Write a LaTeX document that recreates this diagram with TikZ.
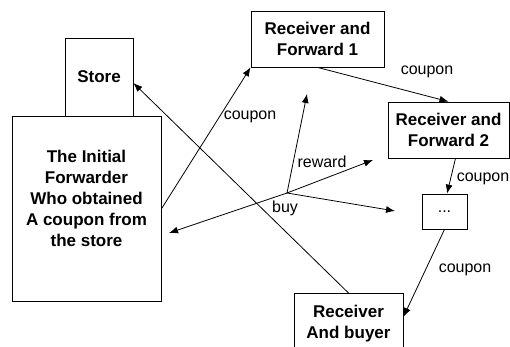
\documentclass[tikz,border=0pt]{standalone}
\usepackage{fontspec}
\setmainfont{Liberation Sans}
\usetikzlibrary{arrows.meta}
\tikzset{every path/.style={black,line width=0.8pt},
  box/.style={draw,fill=white,align=center,inner sep=0pt,font=\fontsize{17}{21}\selectfont\bfseries},
  lbl/.style={inner sep=0pt,font=\fontsize{16}{19}\selectfont},
  arr/.style={-{Latex[length=9pt,width=7pt]}}}

\begin{document}
\begin{tikzpicture}[x=1pt,y=-1pt]
  \useasboundingbox (0,0) rectangle (510,347);
  % boxes
  \node[box,minimum width=68pt,minimum height=78pt] (store) at (99,77) {Store};
  \node[box,anchor=north,minimum width=149pt,text height=130pt,text depth=55pt] (init) at (86.5,116)
    {The Initial\\Forwarder\\Who obtained\\A coupon from\\the store};
  \node[box,minimum width=133pt,minimum height=56pt] (rf1) at (317.5,39) {Receiver and\\Forward 1};
  \node[box,minimum width=121pt,minimum height=56pt] (rf2) at (448.5,130) {Receiver and\\Forward 2};
  \node[box,minimum width=45pt,minimum height=35pt,font=\fontsize{16}{19}\selectfont] (dots) at (444.5,211.5) {...};
  \node[box,anchor=north,minimum width=109pt,text height=45pt,text depth=20pt] (buyer) at (348.5,293)
    {Receiver\\And buyer};
  % the coupon chain
  \draw[arr] (init.east) -- (rf1.south west);
  \draw[arr] (rf1.south) -- (rf2.north);
  \draw[arr] ([xshift=7pt]rf2.south) -- ([xshift=2.5pt]dots.north);
  \draw[arr] (dots.south) -- ([yshift=9pt]buyer.east);
  \draw[arr] (buyer.north) -- ([yshift=-6pt]store.east);
  % reward and buy
  \coordinate (hub) at (287,193);
  \coordinate (up) at (307,94);
  \coordinate (upr) at (373,160);
  \coordinate (dnr) at (395,211);
  \coordinate (lft) at (169,233);
  \draw[arr] (hub) -- (up);
  \draw[arr] (hub) -- (upr);
  \draw[arr] (hub) -- (dnr);
  \draw[arr] (hub) -- (lft);
  % labels
  \node[lbl] (c1) at (250,117) {coupon};
  \node[lbl] (c2) at (427,72) {coupon};
  \node[lbl] (c3) at (483,179) {coupon};
  \node[lbl] (c4) at (465,270) {coupon};
  \node[lbl] (rw) at (322,162) {reward};
  \node[lbl] (by) at (285,208) {buy};
\end{tikzpicture}
\end{document}
